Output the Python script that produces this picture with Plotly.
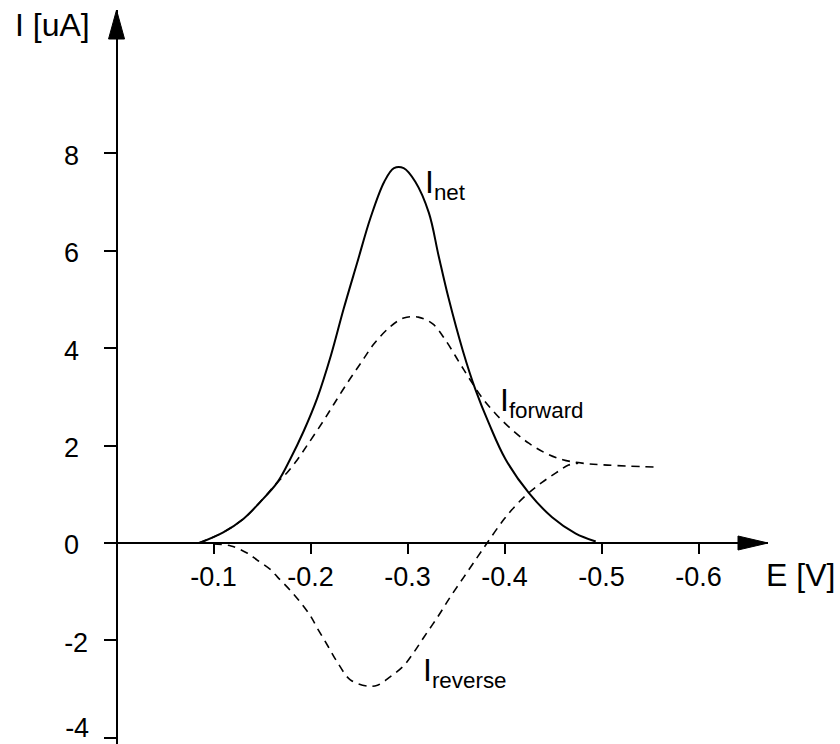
import plotly.graph_objects as go

# Square-wave voltammogram: net, forward and reverse currents vs. potential
net_E = [-0.085, -0.110, -0.131, -0.148, -0.166, -0.179, -0.193, -0.207, -0.221, -0.234,
         -0.248, -0.262, -0.276, -0.286, -0.296, -0.308, -0.322, -0.332, -0.342, -0.357,
         -0.370, -0.384, -0.401, -0.425, -0.449, -0.473, -0.494]
net_I = [0.0, 0.22, 0.50, 0.84, 1.25, 1.72, 2.30, 2.98, 3.85, 4.80,
         5.75, 6.69, 7.42, 7.70, 7.70, 7.42, 6.78, 5.90, 5.05, 3.95,
         3.15, 2.45, 1.72, 1.03, 0.53, 0.20, 0.03]

fwd_E = [-0.085, -0.110, -0.131, -0.148, -0.166, -0.176, -0.186, -0.197, -0.213, -0.224,
         -0.238, -0.252, -0.265, -0.282, -0.296, -0.311, -0.326, -0.339, -0.353, -0.363,
         -0.377, -0.391, -0.408, -0.425, -0.442, -0.460, -0.480, -0.506, -0.556]
fwd_I = [0.0, 0.22, 0.50, 0.84, 1.25, 1.45, 1.70, 2.02, 2.50, 2.85,
         3.29, 3.70, 4.08, 4.44, 4.62, 4.64, 4.50, 4.17, 3.72, 3.40,
         2.98, 2.65, 2.32, 2.05, 1.85, 1.71, 1.64, 1.60, 1.56]

rev_E = [-0.100, -0.118, -0.135, -0.145, -0.159, -0.166, -0.179, -0.190, -0.200, -0.207,
         -0.218, -0.228, -0.241, -0.259, -0.269, -0.282, -0.296, -0.306, -0.317, -0.331,
         -0.344, -0.358, -0.372, -0.382, -0.398, -0.411, -0.425, -0.439, -0.453, -0.466,
         -0.476]
rev_I = [-0.02, -0.06, -0.21, -0.35, -0.55, -0.70, -0.97, -1.23, -1.50, -1.75,
         -2.12, -2.46, -2.81, -2.94, -2.92, -2.75, -2.52, -2.26, -1.93, -1.52,
         -1.11, -0.70, -0.29, 0.0, 0.45, 0.76, 1.03, 1.25, 1.44, 1.60,
         1.64]

x_tickvals = [-0.1, -0.2, -0.3, -0.4, -0.5, -0.6]
x_ticktext = ["-0.1", "-0.2", "-0.3", "-0.4", "-0.5", "-0.6"]
y_tickvals = [-4, -2, 0, 2, 4, 6, 8]
y_ticktext = ["-4", "-2", "0", "2", "4", "6", "8"]

X_RANGE = [0.0119, -0.6716]
Y_RANGE = [-4.128, 10.947]

FONT = "Arial, Liberation Sans, sans-serif"
INK = "#000000"
# invisible hyphen keeps positive and negative labels left-aligned
PAD = "<span style='color:rgba(0,0,0,0)'>-</span>"


def y_label(t):
    return t if t.startswith("-") else t + PAD


# the lowest label sits at the page edge, so it is drawn on a twin axis and nudged up
y_low = min(y_tickvals)
y_main_text = ["" if v == y_low else y_label(t) for v, t in zip(y_tickvals, y_ticktext)]
y_low_text = [y_label(t) for v, t in zip(y_tickvals, y_ticktext) if v == y_low]

fig = go.Figure()
fig.add_trace(go.Scatter(x=net_E, y=net_I, mode="lines", name="I net",
                         line=dict(color=INK, width=2, shape="spline", smoothing=1.0)))
fig.add_trace(go.Scatter(x=fwd_E, y=fwd_I, mode="lines", name="I forward",
                         line=dict(color=INK, width=1.6, dash="8px,6px",
                                   shape="spline", smoothing=1.0)))
fig.add_trace(go.Scatter(x=rev_E, y=rev_I, mode="lines", name="I reverse",
                         line=dict(color=INK, width=1.6, dash="8px,6px",
                                   shape="spline", smoothing=1.0)))
# empty series that keeps the twin axis on the page
fig.add_trace(go.Scatter(x=[], y=[], mode="lines", yaxis="y2", hoverinfo="skip",
                         showlegend=False))

# axes cross at the origin
x_axis_pos = (0 - Y_RANGE[0]) / (Y_RANGE[1] - Y_RANGE[0])
y_axis_pos = (X_RANGE[0] - 0) / (X_RANGE[0] - X_RANGE[1])

tick_font = dict(size=27, family=FONT, color=INK)

fig.update_layout(
    width=840, height=744,
    margin=dict(l=105, r=72, t=10, b=0, autoexpand=False),
    plot_bgcolor="white", paper_bgcolor="white",
    showlegend=False,
    font=dict(family=FONT, color=INK),
    xaxis=dict(range=X_RANGE, anchor="free", position=x_axis_pos,
               showline=True, linecolor=INK, linewidth=2,
               showgrid=False, zeroline=False, automargin=False,
               ticks="outside", ticklen=10, tickwidth=2, tickcolor=INK,
               tickvals=x_tickvals, ticktext=x_ticktext,
               ticklabeloverflow="allow", tickfont=tick_font),
    yaxis=dict(range=Y_RANGE, anchor="free", position=y_axis_pos,
               showline=True, linecolor=INK, linewidth=2,
               showgrid=False, zeroline=False, automargin=False,
               ticks="outside", ticklen=12, tickwidth=2, tickcolor=INK,
               tickvals=y_tickvals, ticktext=y_main_text,
               ticklabeloverflow="allow", ticklabelstandoff=10, ticklabelshift=2,
               tickfont=tick_font),
    yaxis2=dict(range=Y_RANGE, overlaying="y", anchor="free", position=y_axis_pos,
                side="left", showline=False, showgrid=False, zeroline=False,
                automargin=False, ticks="outside", ticklen=12, tickwidth=2,
                tickcolor="rgba(0,0,0,0)",
                tickvals=[y_low], ticktext=y_low_text,
                ticklabeloverflow="allow", ticklabelstandoff=10, ticklabelshift=-10,
                tickfont=tick_font),
)

# arrowheads at the ends of both axes
fig.add_shape(type="path", xref="x", yref="y", xsizemode="pixel", ysizemode="pixel",
              xanchor=X_RANGE[1], yanchor=0,
              path="M 0 0 L -30 7 L -30 -7 Z", fillcolor=INK, line=dict(color=INK, width=1))
fig.add_shape(type="path", xref="x", yref="y", xsizemode="pixel", ysizemode="pixel",
              xanchor=0, yanchor=Y_RANGE[1],
              path="M 0 0 L -8 -29 L 8 -29 Z", fillcolor=INK, line=dict(color=INK, width=1))

# axis titles
fig.add_annotation(x=-0.1388, y=0.9796, xref="paper", yref="paper", text="I [uA]",
                   showarrow=False, xanchor="left", yanchor="middle",
                   font=dict(size=32, family=FONT, color=INK))
fig.add_annotation(x=-0.667, y=-0.657, xref="x", yref="y", text="E [V]", showarrow=False,
                   xanchor="left", yanchor="middle", font=dict(size=32, family=FONT, color=INK))

# curve labels
for txt, xe, yi in [("I<sub>net</sub>", -0.316, 7.82),
                    ("I<sub>forward</sub>", -0.393, 3.35),
                    ("I<sub>reverse</sub>", -0.314, -2.20)]:
    fig.add_annotation(x=xe, y=yi, xref="x", yref="y", text=txt, showarrow=False,
                       xanchor="left", yanchor="top", font=dict(size=32, family=FONT, color=INK))

fig.write_html("out.html")
